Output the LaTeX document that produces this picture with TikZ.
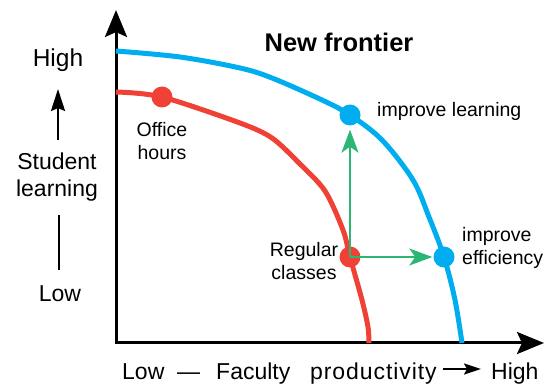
\documentclass[tikz,border=0pt]{standalone}
\usepackage{fontspec}
\setmainfont{Liberation Sans}
\usetikzlibrary{arrows.meta}
\definecolor{fblue}{RGB}{0,174,239}
\definecolor{fred}{RGB}{239,65,54}
\definecolor{fgreen}{RGB}{43,182,115}
\tikzset{
  axis/.style={line width=3pt,-{Stealth[length=27pt,width=22pt,inset=5pt]}},
  curve/.style={line width=5pt,line join=round},
  dot/.style={circle,fill=#1,minimum size=21pt,inner sep=0pt},
  garrow/.style={fgreen,line width=2.2pt,-{Stealth[length=23pt,width=17pt,inset=6pt]}},
  big/.style={font=\fontsize{23}{27}\selectfont,inner sep=0pt},
  small/.style={font=\fontsize{19.5}{23}\selectfont,inner sep=0pt},
  deco/.style={line width=2.5pt},
}
\begin{document}
\begin{tikzpicture}[x=1pt,y=-1pt]
\useasboundingbox (0,0) rectangle (544,387);
% axes
\coordinate (O) at (116,343);
\coordinate (ytip) at (116,10);
\coordinate (xtip) at (544,343);
\draw[axis] ([yshift=1.5pt]O) -- (ytip);
\draw[axis] ([xshift=-1.5pt]O) -- (xtip);
% curves
\draw[curve,fblue] plot[smooth,tension=0.55] coordinates {(116,51) (180,57) (240,68) (272,78) (322,100) (350,115) (382,140) (413,180) (429,217) (444,257) (455,300) (462,343)};
\draw[curve,fred] plot[smooth,tension=0.5] coordinates {(116,92) (162,97) (240,123) (272,138) (299,163) (325,191) (343,230) (350,257) (362,300) (368,327) (369,343)};
% dots
\node[dot=fred] (oh) at (162,97) {};
\node[dot=fred] (rc) at (350,257) {};
\node[dot=fblue] (il) at (350,115) {};
\node[dot=fblue] (ie) at (444,257) {};
% green arrows
\draw[garrow,shorten >=4pt] (rc.center) -- (il);
\draw[garrow,shorten >=1pt] (rc.center) -- (ie);
% labels
\node[inner sep=0pt,font=\fontsize{25.5}{28}\selectfont\bfseries,anchor=base] (nf) at (339,52) {New frontier};
\node[small,anchor=base west] (ilt) at (377,117) {improve learning};
\node[small,anchor=base,align=center] (oht) at (162,160) {Office\\hours};
\node[small,anchor=base,align=center] (rct) at (304,280) {Regular\\classes};
\node[small,anchor=base west,align=left] (iet) at (462,265) {improve\\efficiency};
% y-axis label
\node[big,font=\fontsize{24.5}{27}\selectfont,anchor=base] (yhigh) at (58,67) {High};
\coordinate (ua1) at (58,140);
\coordinate (ua2) at (58,89);
\draw[deco,-{Stealth[length=22pt,width=14pt,inset=3pt]}] (ua1) -- (ua2);
\node[big,anchor=base,align=center] (ylab) at (57,197) {Student\\learning};
\coordinate (yl1) at (59,215);
\coordinate (yl2) at (59,270);
\draw[deco] (yl1) -- (yl2);
\node[big,anchor=base] (ylow) at (60,302) {Low};
% x-axis label
\node[big,anchor=base west] (xlow) at (122,380) {Low};
\node[big,anchor=base west] (xdash) at (177,380) {—};
\node[big,anchor=base west] (xfac) at (216,380) {Faculty};
\node[big,anchor=base west] (xprod) at (310,380) {\addfontfeatures{LetterSpace=4}productivity};
\coordinate (ba1) at (443,369);
\coordinate (ba2) at (481,369);
\draw[line width=2pt,-{Stealth[length=17pt,width=11pt,inset=3pt]}] (ba1) -- (ba2);
\node[big,anchor=base west] (xhigh) at (491,380) {High};
\end{tikzpicture}
\end{document}
